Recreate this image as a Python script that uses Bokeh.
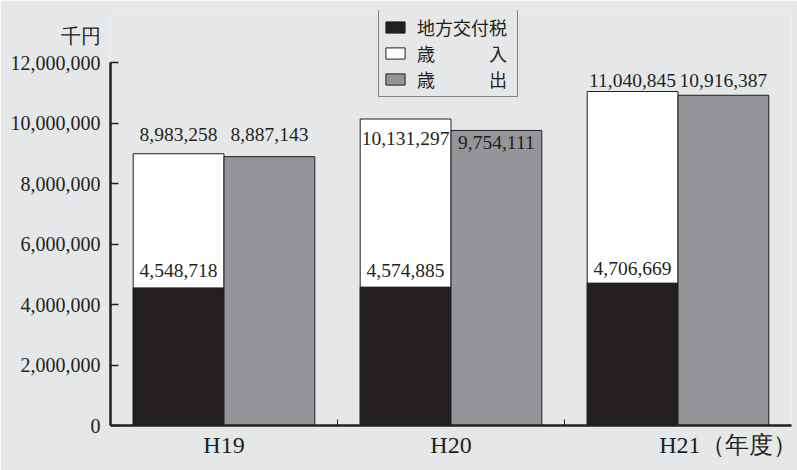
from bokeh.plotting import figure
from bokeh.models import (ColumnDataSource, Range1d, FixedTicker, NumeralTickFormatter,
                          Legend, LegendItem)
from bokeh.core.properties import value
from bokeh.embed import file_html
from bokeh.resources import INLINE

# ---------------- data ----------------
years = ["H19", "H20", "H21"]
chihou_koufuzei = [4548718, 4574885, 4706669]   # 地方交付税
sainyu = [8983258, 10131297, 11040845]           # 歳入
saishutsu = [8887143, 9754111, 10916387]         # 歳出
series_names = ["地方交付税", "歳　　　入", "歳　　　出"]
unit_label = "千円"
year_suffix = "（年度）"
y_ticks = [0, 2000000, 4000000, 6000000, 8000000, 10000000, 12000000]

# ---------------- style ----------------
BG = "#e6e7e8"
INK = "#231f20"
GREY = "#939598"
SERIF = "Liberation Serif"
CJK = "Noto Sans CJK JP"

W, H = 797, 470
B_LEFT, B_RIGHT, B_TOP, B_BOTTOM = 110, 6, 10, 45
frame_h = H - B_TOP - B_BOTTOM
frame_w = W - B_LEFT - B_RIGHT
AXIS_PX = 363                      # pixel height of 0..12,000,000
y_axis_max = y_ticks[-1]
y_max = y_axis_max * frame_h / AXIS_PX
units_per_px = y_axis_max / AXIS_PX
LAST_TICK_SHIFT = 0.22             # last category label carries the (年度) suffix

# label offsets (px, positive = up from bar top), per category
dy_in = [19, -19, 11]
dy_out = [22, -12, 15]
dy_tax = [17, 17, 15]

idx = list(range(len(years)))
x_in = [i - 0.2 for i in idx]
x_out = [i + 0.2 for i in idx]

src_in = ColumnDataSource(dict(x=x_in, top=sainyu))
src_tax = ColumnDataSource(dict(x=x_in, top=chihou_koufuzei))
src_out = ColumnDataSource(dict(x=x_out, top=saishutsu))

p = figure(width=W, height=H, x_range=Range1d(-0.5, len(years) - 0.5),
           y_range=Range1d(0, y_max), output_backend="svg", toolbar_location=None,
           min_border_left=B_LEFT, min_border_right=B_RIGHT,
           min_border_top=B_TOP, min_border_bottom=B_BOTTOM,
           background_fill_color=BG, border_fill_color=BG, outline_line_color=None)
p.grid.visible = False

r_in = p.vbar(x="x", top="top", width=0.4, source=src_in,
              fill_color="white", line_color=INK, line_width=1)
r_tax = p.vbar(x="x", top="top", width=0.4, source=src_tax,
               fill_color=INK, line_color=INK, line_width=1)
r_out = p.vbar(x="x", top="top", width=0.4, source=src_out,
               fill_color=GREY, line_color=INK, line_width=1)

lab_x = x_in + x_out + x_in
lab_y = ([v + d * units_per_px for v, d in zip(sainyu, dy_in)] +
         [v + d * units_per_px for v, d in zip(saishutsu, dy_out)] +
         [v + d * units_per_px for v, d in zip(chihou_koufuzei, dy_tax)])
lab_t = [f"{v:,}" for v in sainyu + saishutsu + chihou_koufuzei]
p.text(x=lab_x, y=lab_y, text=lab_t, text_font=value(SERIF), text_font_size="19.5px",
       text_align="center", text_baseline="middle", text_color=INK)

# y axis (unit label sits on an extra line above the top tick label)
ya = p.yaxis[0]
ya.ticker = FixedTicker(ticks=y_ticks)
ya.formatter = NumeralTickFormatter(format="0,0")
ya.major_label_overrides = {y_ticks[-1]: f"{unit_label}\n{y_ticks[-1]:,}\n "}
ya.bounds = (0, y_axis_max)
ya.major_tick_in = 8
ya.major_tick_out = 0
ya.minor_tick_in = 0
ya.minor_tick_out = 0
ya.axis_line_width = 2.5
ya.axis_line_color = INK
ya.major_tick_line_color = INK
ya.major_tick_line_width = 1.5
ya.major_label_text_font = SERIF
ya.major_label_text_font_size = "20px"
ya.major_label_text_color = INK
ya.major_label_standoff = 10

# x axis
x_tick_pos = idx[:-1] + [idx[-1] + LAST_TICK_SHIFT]
x_tick_txt = years[:-1] + [years[-1] + year_suffix]
xa = p.xaxis[0]
xa.ticker = FixedTicker(ticks=x_tick_pos, minor_ticks=[i + 0.5 for i in idx[:-1]])
xa.major_label_overrides = {t: s for t, s in zip(x_tick_pos, x_tick_txt)}
xa.major_tick_in = 0
xa.major_tick_out = 0
xa.minor_tick_in = 6
xa.minor_tick_out = 0
xa.minor_tick_line_color = INK
xa.minor_tick_line_width = 1
xa.axis_line_width = 2.5
xa.axis_line_color = INK
xa.major_label_text_font = SERIF
xa.major_label_text_font_size = "24px"
xa.major_label_text_color = INK
xa.major_label_standoff = 6

# legend: box from ~11px to ~97px (page), rows 26px apart
LEG_ROW = 26
LEG_PAD = 4
leg_h = 2 * LEG_PAD + 3 * LEG_ROW
legend = Legend(items=[LegendItem(label=series_names[0], renderers=[r_tax]),
                       LegendItem(label=series_names[1], renderers=[r_in]),
                       LegendItem(label=series_names[2], renderers=[r_out])],
                location=(268, frame_h - 1 - leg_h), orientation="vertical",
                glyph_width=24, glyph_height=14, label_standoff=10, spacing=0,
                padding=LEG_PAD, margin=0, label_height=LEG_ROW, label_width=96,
                border_line_color=INK, border_line_width=1.5,
                background_fill_color=BG, background_fill_alpha=1,
                label_text_font=CJK, label_text_font_size="18px",
                label_text_color=INK)
p.add_layout(legend, "center")

html = file_html(p, INLINE)
html = html.replace("<body>", '<body style="background-color:#e6e7e8;">', 1)
open("out.html", "w").write(html)
